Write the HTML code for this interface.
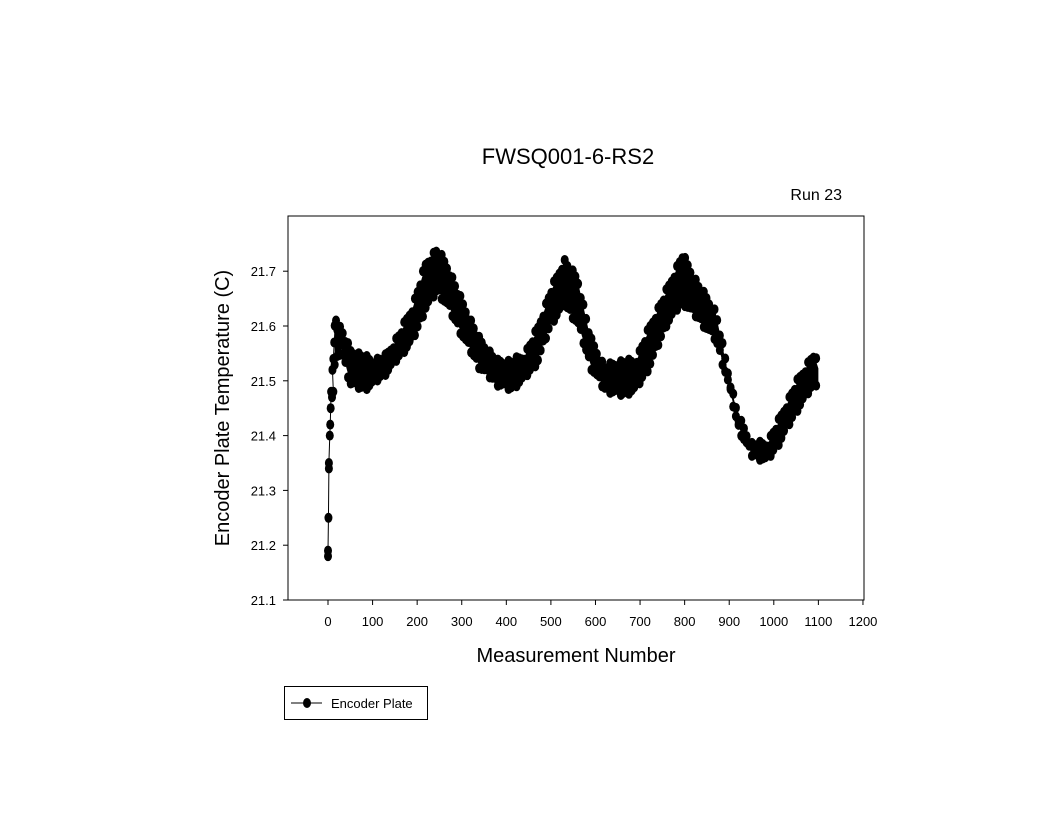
<!DOCTYPE html>
<html><head><meta charset="utf-8"><style>
body{margin:0;background:#fff;}
svg{display:block;font-family:"Liberation Sans",Arial,sans-serif;}
</style></head><body>
<svg id="s" width="1056" height="816" viewBox="0 0 1056 816" xmlns="http://www.w3.org/2000/svg">
<rect width="1056" height="816" fill="#fff"/>
<text x="568" y="164" font-size="22" text-anchor="middle">FWSQ001-6-RS2</text>
<text x="842" y="200" font-size="16" text-anchor="end">Run 23</text>
<rect x="288" y="216" width="576" height="384" fill="none" stroke="#000" stroke-width="1"/>
<g id="ticks" stroke="#000" stroke-width="1"></g>
<g id="labels" font-size="13" fill="#000"></g>
<text x="576" y="662" font-size="20" text-anchor="middle">Measurement Number</text>
<text transform="translate(229,408) rotate(-90)" font-size="20" text-anchor="middle">Encoder Plate Temperature (C)</text>
<g id="data" fill="#000" stroke="#000"></g>
<rect x="284.5" y="686.5" width="143" height="33" fill="#fff" stroke="#000"/>
<line x1="291" y1="703" x2="322" y2="703" stroke="#000"/>
<ellipse cx="307" cy="703" rx="4" ry="5" fill="#000"/>
<text x="331" y="708" font-size="13">Encoder Plate</text>
</svg>
<script>
var NS="http://www.w3.org/2000/svg";
function X(n){return 328+n*0.4458;}
function Y(t){return 600-(t-21.1)*548;}
function el(p,tag,a){var e=document.createElementNS(NS,tag);for(var k in a)e.setAttribute(k,a[k]);p.appendChild(e);return e;}
var tk=document.getElementById('ticks'),lb=document.getElementById('labels'),d=document.getElementById('data');
for(var n=0;n<=1200;n+=100){var x=X(n);el(tk,'line',{x1:x,y1:600,x2:x,y2:605});var t=el(lb,'text',{x:x,y:626,'text-anchor':'middle'});t.textContent=n;}
for(var i=1;i<=7;i++){var v=21+i/10,y=Y(v);el(tk,'line',{x1:283,y1:y,x2:288,y2:y});var t=el(lb,'text',{x:276,y:y+5,'text-anchor':'end'});t.textContent=v.toFixed(1);}
var env=[[15,21.61,21.52],[30,21.60,21.55],[50,21.56,21.49],[80,21.55,21.48],[100,21.54,21.49],[130,21.55,21.51],[160,21.59,21.54],[190,21.64,21.57],[220,21.72,21.63],[245,21.745,21.66],[270,21.71,21.63],[300,21.65,21.58],[340,21.58,21.52],[380,21.54,21.49],[410,21.54,21.48],[440,21.55,21.50],[470,21.60,21.53],[500,21.67,21.60],[530,21.725,21.635],[560,21.69,21.60],[590,21.58,21.52],[620,21.53,21.48],[660,21.54,21.47],[690,21.54,21.48],[720,21.60,21.52],[760,21.67,21.60],[795,21.735,21.64],[830,21.68,21.61],[870,21.63,21.57],[895,21.53,21.50],[920,21.44,21.41],[950,21.39,21.36],[985,21.39,21.35],[1010,21.43,21.38],[1050,21.50,21.44],[1090,21.555,21.49],[1100,21.53,21.49]];
var up=[],lo=[];
env.forEach(function(e){up.push(X(e[0])+','+(Y(e[1])+4));lo.unshift(X(e[0])+','+(Y(e[2])-4));});
el(d,'polygon',{points:up.concat(lo).join(' '),stroke:'none'});
function interp(n,k){for(var i=0;i<env.length-1;i++){if(n>=env[i][0]&&n<=env[i+1][0]){var f=(n-env[i][0])/(env[i+1][0]-env[i][0]);return env[i][k]+f*(env[i+1][k]-env[i][k]);}}return env[env.length-1][k];}
for(var n=15;n<=1100;n+=6){var a=interp(n,1),b=interp(n,2);var jit=((n*37)%7-3)*0.002;
el(d,'ellipse',{cx:X(n),cy:Y(a+jit)+4,rx:4,ry:5,stroke:'none'});
el(d,'ellipse',{cx:X(n),cy:Y(b-jit)-4,rx:4,ry:5,stroke:'none'});}
var sp=[[0,21.18],[0,21.19],[1,21.25],[2,21.34],[2,21.35],[4,21.40],[5,21.42],[6,21.45],[7,21.48],[9,21.47],[12,21.48],[10,21.52],[12,21.54],[14,21.57],[16,21.60],[18,21.61]];
var pts=sp.map(function(p){return X(p[0])+','+Y(p[1]);}).join(' ');
el(d,'polyline',{points:pts,fill:'none','stroke-width':1});
sp.forEach(function(p){el(d,'ellipse',{cx:X(p[0]),cy:Y(p[1]),rx:4,ry:5,stroke:'none'});});
</script>
</body></html>
